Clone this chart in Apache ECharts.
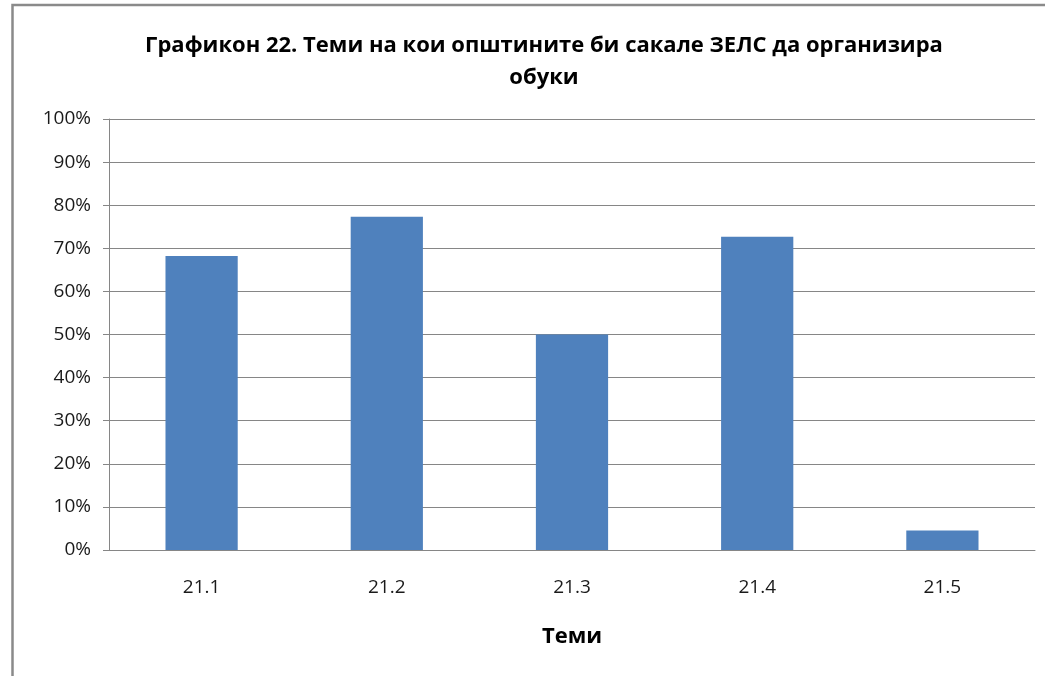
<!DOCTYPE html>
<html>
<head>
<meta charset="utf-8">
<script src="https://cdn.jsdelivr.net/npm/echarts@6/dist/echarts.min.js"></script>
<style>
  html, body { margin: 0; padding: 0; background: #fff; }
  #chart { width: 1045px; height: 676px; }
</style>
</head>
<body>
<div id="chart"></div>
<script>
// податоци
var categories = ['21.1', '21.2', '21.3', '21.4', '21.5'];
var values = [68.2, 77.3, 50.0, 72.7, 4.5];   // проценти
var yTicks = [0, 10, 20, 30, 40, 50, 60, 70, 80, 90, 100];

var chart = echarts.init(document.getElementById('chart'));

var option = {
    backgroundColor: '#fff',
    animation: false,
    textStyle: { fontFamily: 'Open Sans' },
    title: {
        text: 'Графикон 22. Теми на кои општините би сакале ЗЕЛС да организира\nобуки',
        left: 539,
        top: 25,
        textAlign: 'center',
        textStyle: {
            fontFamily: 'Open Sans',
            fontSize: 22,
            fontWeight: 'bold',
            color: '#000',
            lineHeight: 32
        }
    },
    // рамка околу графиконот (горе и лево)
    graphic: [{
        type: 'polyline',
        shape: { points: [[1045, 5], [12.5, 5], [12.5, 676]] },
        style: { fill: 'none', stroke: '#8a8a8a', lineWidth: 2.5 }
    }],
    grid: {
        left: 109,
        right: 10,
        top: 119,
        bottom: 126,
        containLabel: false
    },
    xAxis: {
        type: 'category',
        data: categories,
        name: 'Теми',
        nameLocation: 'middle',
        nameGap: 76,
        nameTextStyle: { fontSize: 22, fontWeight: 'bold', color: '#000' },
        axisLine: { lineStyle: { color: '#868686' } },
        axisTick: { show: false },
        axisLabel: { fontSize: 19, color: '#1a1a1a', margin: 28 }
    },
    yAxis: {
        type: 'value',
        min: 0,
        max: 100,
        interval: 10,
        axisLine: { show: true, lineStyle: { color: '#868686' } },
        axisTick: { show: true, length: 6, lineStyle: { color: '#868686' } },
        splitLine: { lineStyle: { color: '#868686' } },
        axisLabel: {
            fontSize: 19,
            color: '#1a1a1a',
            margin: 18,
            formatter: function (v) {
                return yTicks.indexOf(v) >= 0 ? v + '%' : '';
            }
        }
    },
    series: [{
        type: 'bar',
        data: values,
        barWidth: '39%',
        itemStyle: { color: '#4F81BD' }
    }]
};

chart.setOption(option);
</script>
</body>
</html>
